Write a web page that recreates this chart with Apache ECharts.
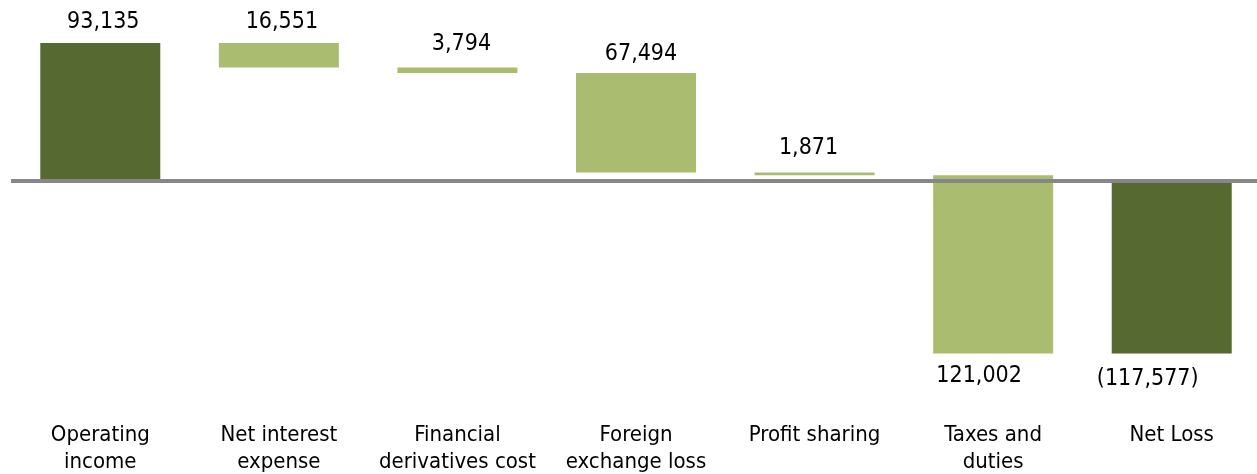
<!DOCTYPE html>
<html>
<head>
<meta charset="utf-8">
<script src="https://cdn.jsdelivr.net/npm/echarts@6/dist/echarts.min.js"></script>
<style>
  html, body { margin: 0; padding: 0; background: #fff; }
  #chart { width: 1257px; height: 474px; }
</style>
</head>
<body>
<div id="chart"></div>
<script>
// waterfall data
const categories = ['Operating\nincome', 'Net interest\nexpense', 'Financial\nderivatives cost', 'Foreign\nexchange loss', 'Profit sharing', 'Taxes and\nduties', 'Net Loss']
const changes = [93135, -16551, -3794, -67494, -1871, -121002, -117577]
const isTotal = [true, false, false, false, false, false, true]
const valueLabels = ['93,135', '16,551', '3,794', '67,494', '1,871', '121,002', '(117,577)']

const DARK = '#566930'
const LIGHT = '#a9bc6f'
const FONT = "'DejaVu Sans Condensed', 'DejaVu Sans', sans-serif"
// small nudges so labels sit where the original put them
const labelOffsets = [[3, 0], [3, 0], [4, -2], [5, 2], [-6, -3], [-14, 1], [-24, 4]]

const base = [], pos = [], neg = []
let running = 0
changes.forEach((v, i) => {
  let lo, hi
  if (isTotal[i]) {
    lo = Math.min(0, v); hi = Math.max(0, v); running = v
  } else {
    const next = running + v
    lo = Math.min(running, next); hi = Math.max(running, next); running = next
  }
  const color = isTotal[i] ? DARK : LIGHT
  const lbl = (position) => ({
    show: true, position, distance: 10, offset: labelOffsets[i],
    formatter: valueLabels[i], color: '#000', fontSize: 23, fontFamily: FONT
  })
  if (lo >= 0) {
    base.push(lo > 0 ? lo : '-')
    pos.push({ value: hi - lo, itemStyle: { color }, label: lbl('top') })
    neg.push('-')
  } else if (hi <= 0) {
    base.push(hi < 0 ? hi : '-')
    pos.push('-')
    neg.push({ value: lo - hi, itemStyle: { color }, label: lbl('bottom') })
  } else {
    base.push('-')
    pos.push({ value: hi, itemStyle: { color } })
    neg.push({ value: lo, itemStyle: { color }, label: lbl('bottom') })
  }
})

const chart = echarts.init(document.getElementById('chart'))
chart.setOption({
  animation: false,
  grid: { left: 11, width: 1250, top: 33, height: 324, outerBoundsMode: 'none' },
  xAxis: {
    type: 'category',
    data: categories,
    axisLine: { show: false },
    axisTick: { show: false },
    axisLabel: {
      interval: 0, margin: 65, color: '#000',
      fontSize: 22, lineHeight: 27, fontFamily: FONT
    }
  },
  yAxis: {
    type: 'value', min: -120000, max: 100000,
    axisLine: { show: false }, axisTick: { show: false },
    axisLabel: { show: false }, splitLine: { show: false }
  },
  series: [
    {
      type: 'bar', stack: 'wf', data: base, barWidth: 120,
      itemStyle: { color: 'transparent' }, silent: true
    },
    {
      type: 'bar', stack: 'wf', data: pos, barWidth: 120,
      markLine: {
        silent: true, symbol: 'none', z: 10,
        label: { show: false },
        lineStyle: { color: '#878787', width: 4, type: 'solid' },
        data: [{ yAxis: 0 }]
      }
    },
    { type: 'bar', stack: 'wf', data: neg, barWidth: 120 }
  ]
})
</script>
</body>
</html>
